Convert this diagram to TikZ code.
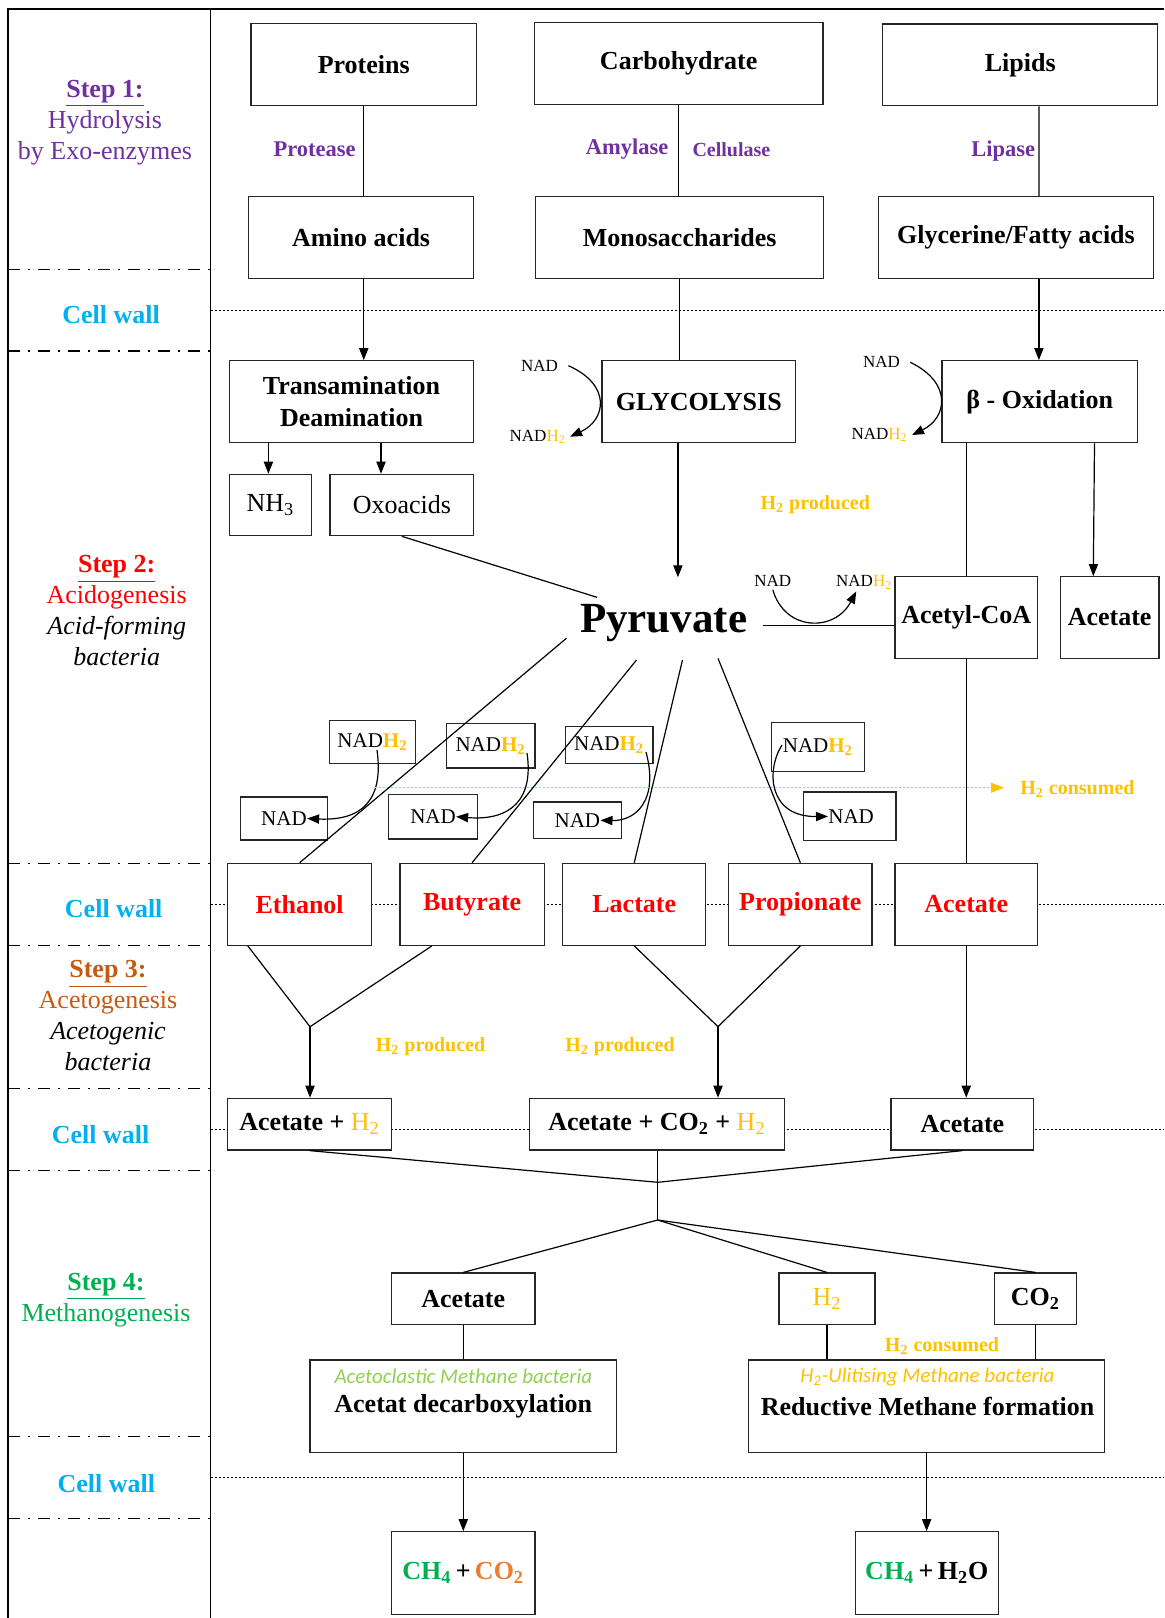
\documentclass[tikz,border=0pt]{standalone}
\usepackage{fontspec}
\setmainfont{Liberation Serif}
\newfontfamily\calib{Carlito}
\usetikzlibrary{arrows.meta,fit,calc}
\definecolor{purp}{HTML}{7030A0}
\definecolor{cyanw}{HTML}{00B0F0}
\definecolor{gold}{HTML}{FFC000}
\definecolor{brn}{HTML}{C55A11}
\definecolor{grn}{HTML}{00B050}
\definecolor{lgrn}{HTML}{92D050}
\definecolor{org}{HTML}{ED7D31}
\definecolor{redc}{HTML}{FF0000}
\newcommand\bfnt{\fontsize{13pt}{15.8pt}\selectfont\bfseries}
\newcommand\rfnt{\fontsize{13pt}{15.5pt}\selectfont}
\newcommand\hh{H\textsubscript{2}}
\begin{document}
\begin{tikzpicture}[x=0.5pt,y=-0.5pt,
 ln/.style={line width=0.6pt, draw=black},
 arr/.style={-{Triangle[length=6pt,width=4.6pt]}},
 bx/.style={draw=black!85, line width=0.6pt, fill=white, inner sep=0pt},
 bl/.style={inner sep=0pt, align=center, font=\bfnt},
 rl/.style={inner sep=0pt, align=center, font=\rfnt},
 nb/.style={draw=black!85, line width=0.6pt, inner sep=0pt},
 nl/.style={inner sep=0pt, font=\fontsize{10.5pt}{12pt}\selectfont},
 sm/.style={inner sep=0pt, font=\fontsize{8.5pt}{10pt}\selectfont},
 enz/.style={inner sep=0pt, font=\fontsize{11.25pt}{13pt}\selectfont\bfseries, text=purp},
 yl/.style={inner sep=0pt, font=\fontsize{10pt}{12pt}\selectfont\bfseries, text=gold},
 cw/.style={inner sep=0pt, font=\bfnt, text=cyanw},
 stp/.style={inner sep=0pt, align=center, font=\rfnt},
 dashdotline/.style={line width=0.6pt, dash pattern=on 6pt off 4pt on 1pt off 4pt},
 dotline/.style={line width=0.5pt, dash pattern=on 1pt off 1pt},
 itl/.style={inner sep=0pt, font=\calib\itshape\fontsize{10.5pt}{12pt}\selectfont},
]
\useasboundingbox (0,0) rectangle (1164,1618);
% frame
\draw[line width=1pt] (1164,9) -- (8.4,9) -- (8.4,1618);
\draw[line width=0.6pt] (210.5,9) -- (210.5,1618);
\foreach \yy in {269.3,351,863.3,945.3,1088.3,1170.7,1436.7,1518.3}
  \draw[dashdotline] (8.4,\yy) -- (210.5,\yy);
\foreach \yy in {310.3,904.3,1129.3,1477.3}
  \draw[dotline] (210.5,\yy) -- (1164,\yy);

% left column labels
\node[stp, text=purp] (s1) at (105,122.7) {\textbf{\underline{Step 1:}}\\Hydrolysis\\by Exo-enzymes};
\node[cw] (cw1) at (111,315) {Cell wall};
\node[stp] (s2) at (116.7,610.7) {\textcolor{redc}{\textbf{\underline{Step 2:}}}\\\textcolor{redc}{Acidogenesis}\\\textit{Acid-forming}\\\textit{bacteria}};
\node[cw] (cw2) at (113.7,909) {Cell wall};
\node[stp] (s3) at (108,1015.8) {\textcolor{brn}{\textbf{\underline{Step 3:}}}\\\textcolor{brn}{Acetogenesis}\\\textit{Acetogenic}\\\textit{bacteria}};
\node[cw] (cw3) at (100.6,1134.3) {Cell wall};
\node[stp, text=grn] (s4) at (106,1300) {\textbf{\underline{Step 4:}}\\Methanogenesis};
\node[cw] (cw4) at (106.4,1483.3) {Cell wall};

% step 1 boxes
\node[bx, fit={(251,23.3)(476.5,105.7)}] (prot) {};
\node[bl] (protl) at (prot.center) {Proteins};
\node[bx, fit={(534.5,22.7)(822.9,104.3)}] (carb) {};
\node[bl] (carbl) at (carb.center) {Carbohydrate};
\node[bx, fit={(882.6,24)(1157.8,105.7)}] (lip) {};
\node[bl] (lipl) at (lip.center) {Lipids};
\node[bx, fit={(248.4,196.7)(473.8,278.7)}] (amino) {};
\node[bl] (aminol) at (amino.center) {Amino acids};
\node[bx, fit={(535.6,196.7)(823.7,278.7)}] (mono) {};
\node[bl] (monol) at (mono.center) {Monosaccharides};
\node[bx, fit={(878.4,196.7)(1153.6,278.7)}] (glyc) {};
\node[bl] (glycl) at (glyc.center) {Glycerine/Fatty acids};
\node[enz] (protease) at (314.6,149.3) {Protease};
\node[enz] (amylase) at (627,149.3) {Amylase};
\node[enz, font=\fontsize{10pt}{12pt}\selectfont\bfseries] (cellulase) at (731.4,150) {Cellulase};
\node[enz] (lipase) at (1003.2,151) {Lipase};
\draw[ln] (prot.south) -- (prot.south |- amino.north);
\draw[ln] (carb.south) -- (carb.south |- mono.north);
\draw[ln] ($(lip.south west)+(157,0)$) -- ($(glyc.north west)+(161.1,0)$);

% step 2 boxes
\node[bx, fit={(229.2,360.7)(473.8,442.7)}] (trans) {};
\node[bl] (transl) at (trans.center) {Transamination\\Deamination};
\node[bx, fit={(602,360.7)(795.7,442.7)}] (glyco) {};
\node[bl] (glycol) at (glyco.center) {GLYCOLYSIS};
\node[bx, fit={(942,360.7)(1137.5,442.7)}] (beta) {};
\node[bl] (betal) at (beta.center) {β - Oxidation};
\node[bx, fit={(229.2,474.3)(311.5,535.7)}] (nh3) {};
\node[rl] (nh3l) at (nh3.center) {NH\textsubscript{3}};
\node[bx, fit={(329.9,474.3)(473.8,535.7)}] (oxo) {};
\node[rl] (oxol) at (oxo.center) {Oxoacids};
\node[bx, fit={(894.9,576.7)(1037.6,658.3)}] (acoa) {};
\node[bl] (acoal) at (acoa.center) {Acetyl-CoA};
\node[bx, fit={(1060.2,576.7)(1159,658.3)}] (acet1) {};
\node[bl] (acet1l) at (acet1.center) {Acetate};

\draw[ln,arr] (amino.south -| prot.south) -- (prot.south |- trans.north);
\draw[ln] (mono.south) -- (mono.south |- glyco.north);
\draw[ln,arr] ($(glyc.south west)+(161.1,0)$) -- ($(beta.north west)+(97.5,0)$);
\draw[ln,arr] ($(trans.south west)+(39.8,0)$) -- ($(nh3.north west)+(39.8,0)$);
\draw[ln,arr] ($(trans.south west)+(152.4,0)$) -- ($(oxo.north west)+(51.7,0)$);

% small NAD cycles
\node[sm] (nad1) at (539.6,365.7) {NAD};
\node[sm] (nadh1) at (537.7,436.7) {NAD\textcolor{gold}{H\textsubscript{2}}};
\draw[ln,arr] ([xshift=5pt]nad1.east) .. controls (612,385) and (606,420) .. ([xshift=2pt]nadh1.east);
\node[sm] (nad2) at (881.5,362.3) {NAD};
\node[sm] (nadh2) at (879.6,435) {NAD\textcolor{gold}{H\textsubscript{2}}};
\draw[ln,arr] ([xshift=5pt]nad2.east) .. controls (953,383) and (947,418) .. ([xshift=2pt]nadh2.east);

% pyruvate
\node[inner sep=0pt, anchor=base, font=\fontsize{21.5pt}{24pt}\selectfont\bfseries] (pyr) at (663.7,632.7) {Pyruvate};
\coordinate (pe) at (566.4,638.3);
\coordinate (pb) at (636.5,660);
\coordinate (pl) at (682.5,660);
\coordinate (pp) at (718,658.3);
\coordinate (po) at (597,597.3);
\coordinate (pt) at (677.9,577.3);
\coordinate (pa) at (762.8,625.7);
\draw[ln] (oxo.south) -- (po);
\draw[ln,arr] (pt |- glyco.south) -- (pt);
\draw[ln] (pa) -- (pa -| acoa.west);
\node[yl] (h2p1) at (815.3,504.3) {\hh{} produced};
\node[sm] (nad3) at (772.8,580.7) {NAD};
\node[sm] (nadh3) at (864.2,582.3) {NAD\textcolor{gold}{H\textsubscript{2}}};
\draw[ln,arr] ([yshift=-1.5pt]nad3.south) .. controls (785,632) and (835,632) .. ([xshift=-4pt,yshift=-1pt]nadh3.south);
\draw[ln] (acoa.north |- beta.south) -- (acoa.north);
\draw[ln,arr] ($(beta.south east)+(-43.6,0)$) -- ($(acet1.north west)+(33.7,0)$);

% NAD / NADH2 boxes
\node[nb, fit={(329.5,720.3)(415.6,763.3)}] (nh2a) {};
\node[nl] (nh2at) at (nh2a.center) {NAD\textcolor{gold}{\textbf{H\textsubscript{2}}}};
\node[nb, fit={(446.2,723.7)(535,768)}] (nh2b) {};
\node[nl] (nh2bt) at (nh2b.center) {NAD\textcolor{gold}{\textbf{H\textsubscript{2}}}};
\node[nb, fit={(565.4,726.7)(653,763.3)}] (nh2c) {};
\node[nl] (nh2ct) at (nh2c.center) {NAD\textcolor{gold}{\textbf{H\textsubscript{2}}}};
\node[nb, fit={(771.6,722.7)(864.3,771.7)}] (nh2d) {};
\node[nl] (nh2dt) at (nh2d.center) {NAD\textcolor{gold}{\textbf{H\textsubscript{2}}}};
\node[nb, fit={(240.7,797)(327.2,840)}] (nada) {};
\node[nb, fit={(388.4,794.3)(477.6,839)}] (nadb) {};
\node[nb, fit={(533.5,802)(621.2,838.7)}] (nadc) {};
\node[nb, fit={(803.8,792)(896,840.7)}] (nadd) {};
\node[nl] (nadat) at (nada.center) {NAD};
\node[nl] (nadbt) at (nadb.center) {NAD};
\node[nl] (nadct) at (nadc.center) {NAD};
\node[nl, anchor=west] (naddx) at (828,816.4) {NAD};
\coordinate (ca) at (377,750);
\coordinate (cb) at (527,753);
\coordinate (cc) at (646,752);
\coordinate (cd) at (782,745);
\draw[ln,arr] (ca) .. controls (384,800) and (362,821) .. (nadat.east);
\draw[ln,arr] (cb) .. controls (534,800) and (510,821) .. (nadbt.east);
\draw[ln,arr] (cc) .. controls (659,800) and (636,821) .. (nadct.east);
\draw[ln,arr] (cd) .. controls (766,770) and (768,817) .. (naddx.west);

% H2 consumed line
\coordinate (hc0) at (375,787.7);
\coordinate (hc1) at (1004,787.7);
\draw[dotline, gold, -{Triangle[length=6.5pt,width=5pt]}] (hc0) -- (hc1);
\node[yl, anchor=west] (h2c1) at (1020,789.3) {\hh{} consumed};

% acids row
\node[bx, fit={(227.7,863.3)(371.6,945.3)}] (eth) {};
\node[bl, text=redc] (ethl) at (eth.center) {Ethanol};
\node[bx, fit={(400,863.3)(544.2,945.3)}] (but) {};
\node[bl, text=redc] (butl) at (but.center) {Butyrate};
\node[bx, fit={(562.7,863.3)(705.8,945.3)}] (lac) {};
\node[bl, text=redc] (lacl) at (lac.center) {Lactate};
\node[bx, fit={(728.8,863.3)(871.9,945.3)}] (prop) {};
\node[bl, text=redc] (propl) at (prop.center) {Propionate};
\node[bx, fit={(894.9,863.3)(1037.6,945.3)}] (acet2) {};
\node[bl, text=redc] (acet2l) at (acet2.center) {Acetate};
\draw[ln] (pe) -- (eth.north);
\draw[ln] (pb) -- (but.north);
\draw[ln] (pl) -- (lac.north);
\draw[ln] (pp) -- (prop.north);
\draw[ln] (acoa.south) -- (acet2.north);

% step 3
\node[bx, fit={(227.7,1098.3)(391.5,1150)}] (ah2) {};
\node[bl] (ah2l) at (ah2.center) {Acetate + \textcolor{gold}{\mdseries\hh}};
\node[bx, fit={(529.3,1098.3)(784.6,1150)}] (aco2) {};
\node[bl] (aco2l) at (aco2.center) {Acetate + CO\textsubscript{2} + \textcolor{gold}{\mdseries\hh}};
\node[bx, fit={(891,1098.3)(1033.8,1150)}] (acet3) {};
\node[bl] (acet3l) at (acet3.center) {Acetate};
\coordinate (v1) at (310,1026.7);
\coordinate (v2) at (718,1026.7);
\draw[ln] ($(eth.south west)+(20.7,0)$) -- (v1) -- ($(but.south west)+(32.5,0)$);
\draw[ln,arr] (v1) -- (v1 |- ah2.north);
\draw[ln] (lac.south) -- (v2) -- (prop.south);
\draw[ln,arr] (v2) -- (v2 |- aco2.north);
\draw[ln,arr] (acet2.south) -- (acet2.south |- acet3.north);
\node[yl] (h2p2) at (430.5,1046.7) {\hh{} produced};
\node[yl] (h2p3) at (620,1046.7) {\hh{} produced};

% step 4
\coordinate (j1) at (657.6,1182.3);
\coordinate (j2) at (657.6,1220);
\draw[ln] (ah2.south) -- (j1) -- (acet3.south);
\draw[ln] (j1 |- aco2.south) -- (j1) -- (j2);
\node[bx, fit={(391.5,1273)(535,1324.3)}] (acet4) {};
\node[bl] (acet4l) at (acet4.center) {Acetate};
\node[bx, fit={(778.9,1273)(875,1324.3)}] (h2) {};
\node[rl, text=gold] (h2l) at (h2.center) {\hh};
\node[bx, fit={(994.7,1273)(1076.3,1324.3)}] (co2) {};
\node[bl] (co2l) at (co2.center) {CO\textsubscript{2}};
\draw[ln] (acet4.north) -- (j2) -- (co2.north);
\draw[ln] (j2) -- (h2.north);
\node[bx, fit={(310,1360)(616.6,1452.3)}] (decarb) {};
\node[bx, fit={(748.7,1360)(1104.6,1452.3)}] (redu) {};
\node[itl, text=lgrn] (decarb1) at (463.4,1376.7) {Acetoclastic Methane bacteria};
\node[bl] (decarb2) at (463.3,1406.7) {Acetat decarboxylation};
\node[itl, text=gold] (redu1) at (927.4,1376.7) {H\textsubscript{2}-Ulitising Methane bacteria};
\node[bl] (redu2) at (927.6,1406.7) {Reductive Methane formation};
\draw[ln] (acet4.south) -- (acet4.south |- decarb.north);
\draw[ln] (h2.south) -- (h2.south |- redu.north);
\draw[ln] (co2.south) -- (co2.south |- redu.north);
\node[yl] (h2c2) at (942,1345.7) {\hh{} consumed};
\node[bx, fit={(391.5,1531.7)(535,1614.3)}] (ch4a) {};
\node[bl] (ch4al) at (ch4a.center) {\textcolor{grn}{CH\textsubscript{4}}\,+\,\textcolor{org}{CO\textsubscript{2}}};
\node[bx, fit={(855.4,1531.7)(998.2,1614.3)}] (ch4b) {};
\node[bl] (ch4bl) at (ch4b.center) {\textcolor{grn}{CH\textsubscript{4}}\,+\,H\textsubscript{2}O};
\draw[ln,arr] (decarb.south) -- (decarb.south |- ch4a.north);
\draw[ln,arr] (redu.south) -- (redu.south |- ch4b.north);
\end{tikzpicture}
\end{document}
